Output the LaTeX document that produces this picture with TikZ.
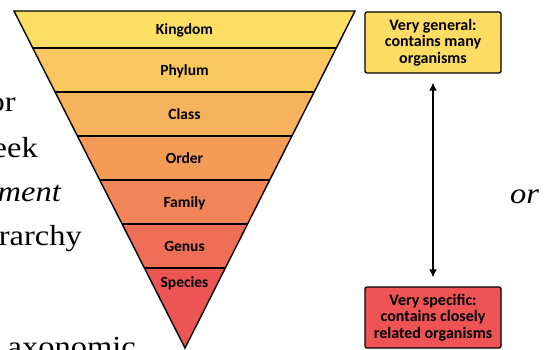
\documentclass[tikz,border=0pt]{standalone}
\usepackage{fontspec}
\setmainfont{Liberation Serif}[FakeStretch=1.12]
\newfontfamily\calib{Carlito}
\usetikzlibrary{arrows.meta}
\definecolor{cK}{RGB}{252,222,100}
\definecolor{cP}{RGB}{248,200,95}
\definecolor{cC}{RGB}{246,178,93}
\definecolor{cO}{RGB}{244,155,88}
\definecolor{cF}{RGB}{241,133,88}
\definecolor{cG}{RGB}{239,110,88}
\definecolor{cS}{RGB}{237,85,85}
\definecolor{boxY}{RGB}{252,220,99}
\definecolor{boxR}{RGB}{238,83,86}
\begin{document}
\begin{tikzpicture}[x=1pt,y=-1pt,
  bandlabel/.style={font=\calib\bfseries\fontsize{15.5}{17}\selectfont, anchor=base, inner sep=0pt},
  infobox/.style={draw, line width=1.3pt, rounded corners=2pt, minimum width=136pt, minimum height=61pt, align=center, inner sep=0pt, font=\calib\bfseries\fontsize{16}{16.5}\selectfont},
  bgtext/.style={font=\fontsize{29}{34}\selectfont, anchor=base east, inner sep=0pt},
  arr/.style={{Latex[length=8pt,width=8pt]}-{Latex[length=8pt,width=8pt]}, line width=1.4pt}]
\useasboundingbox (0,0) rectangle (549,350);
\clip (0,0) rectangle (549,350);
\fill[white] (0,0) rectangle (549,350);
\coordinate (L) at (14,11);
\coordinate (R) at (355,11);
\coordinate (A) at (185,348);
\begin{scope}
  \clip (L) -- (R) -- (A) -- cycle;
  \fill[cK] (0,0) rectangle (549,48);
  \fill[cP] (0,48) rectangle (549,92);
  \fill[cC] (0,92) rectangle (549,136);
  \fill[cO] (0,136) rectangle (549,180);
  \fill[cF] (0,180) rectangle (549,224);
  \fill[cG] (0,224) rectangle (549,268);
  \fill[cS] (0,268) rectangle (549,350);
  \foreach \y in {48,92,136,180,224,268} \draw[line width=1.2pt] (0,\y) -- (549,\y);
\end{scope}
\draw[line width=1.4pt, line join=miter] (L) -- (R) -- (A) -- cycle;
\node[bandlabel] (kingdom) at (184.5,35) {Kingdom};
\node[bandlabel] (phylum) at (184.5,75.5) {Phylum};
\node[bandlabel] (class) at (184.5,119.5) {Class};
\node[bandlabel] (order) at (184.5,163.5) {Order};
\node[bandlabel] (family) at (184.5,207.5) {Family};
\node[bandlabel] (genus) at (184.5,251.5) {Genus};
\node[bandlabel] (species) at (184.5,287) {Species};
\node[infobox, fill=boxY] (gen) at (433,42.5) {Very general:\\contains many\\organisms};
\node[infobox, fill=boxR] (spec) at (433,317.5) {Very specific:\\contains closely\\related organisms};
\draw[arr, shorten <=9pt, shorten >=9pt] (gen) -- (spec);
\node[bgtext] (t1) at (16,112) {or};
\node[bgtext] (t2) at (38,158) {eek};
\node[bgtext] (t3) at (61,201) {\itshape ment};
\node[bgtext] (t4) at (82,245) {rarchy};
\node[bgtext] (t5) at (136,356) {axonomic};
\node[bgtext, anchor=base west] (t6) at (510,203) {\itshape or};
\end{tikzpicture}
\end{document}
